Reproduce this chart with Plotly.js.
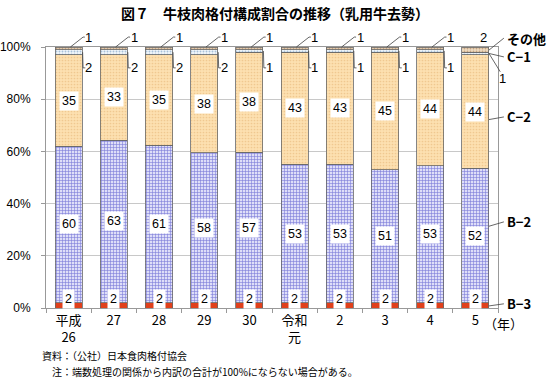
<!DOCTYPE html>
<html><head><meta charset="utf-8">
<script src="https://cdn.plot.ly/plotly-3.0.1.min.js"></script>
<style>html,body{margin:0;padding:0;background:#fff;}#chart{width:550px;height:382px;}</style>
</head><body><div id="chart"></div>
<script>
const years = ['平成<br>26','27','28','29','30','令和<br>元','2','3','4','5'];
const B3 = [2,2,2,2,2,2,2,2,2,2];
const B2 = [60,63,61,58,57,53,53,51,53,52];
const C2 = [35,33,35,38,38,43,43,45,44,44];
const C1 = [2,2,2,2,1,1,1,1,1,1];
const OTHER = [1,1,1,1,1,1,1,1,1,2];
const seriesNames = ['B−3','B−2','C−2','C−1','その他'];
const yTicks = [0,20,40,60,80,100];
const yTickText = ['0%','20%','40%','60%','80%','100%'];

const NUMF = 'Liberation Sans, Arial, Noto Sans CJK JP, sans-serif';
const JPF = 'Noto Sans CJK JP, sans-serif';
const lineC = '#404040';
const barLine = {color:'#666', width:0.8};

const series = [B3,B2,C2,C1,OTHER];
const styles = [
  {color:'#e0401c'},
  {color:'#d4d4f2', pattern:{shape:'+', fgcolor:'#7c7cd8', bgcolor:'#dedef8', size:3, solidity:0.35}},
  {color:'#fde0ae', pattern:{shape:'.', fgcolor:'#f0c890', bgcolor:'#fde0b0', size:3, solidity:0.25}},
  {color:'#eef4fa', pattern:{shape:'.', fgcolor:'#a8c0d8', bgcolor:'#f2f7fb', size:3, solidity:0.3}},
  {color:'#f0dcc0', pattern:{shape:'.', fgcolor:'#c4a482', bgcolor:'#efdcc2', size:3, solidity:0.3}}
];
const traces = series.map((s,k)=>({
  type:'bar', x:years, y:s, name:seriesNames[k],
  marker:Object.assign({line:barLine}, styles[k]),
  width:0.6, hoverinfo:'skip'
}));

// normalized cumulative values (bars normalised to 100% by barnorm)
const N = years.length;
const YMAX = 100;
const tot = years.map((_,i)=>series.reduce((a,s)=>a+s[i],0));
const norm = series.map(s=>s.map((v,i)=>v/tot[i]*100));
const cum = series.map((s,k)=>s.map((v,i)=>{let c=0;for(let j=0;j<k;j++)c+=norm[j][i];return c;}));
const xp = (idx)=>(idx+0.5)/N;   // category index -> paper x
const yp = (v)=>v/YMAX;          // y value -> paper y (range 0..100)

const ann = [];
const shapes = [];
const seg = (pts)=>{ // pts: [[idx,y],...]
  for(let j=0;j<pts.length-1;j++){
    shapes.push({type:'line',xref:'paper',yref:'paper',x0:xp(pts[j][0]),y0:yp(pts[j][1]),x1:xp(pts[j+1][0]),y1:yp(pts[j+1][1]),
      line:{color:lineC,width:0.8}});
  }
};
const txt = (idx,y,t,opt)=>Object.assign({xref:'paper',yref:'paper',x:xp(idx),y:yp(y),text:String(t),showarrow:false,
  xanchor:'center',yanchor:'middle',font:{family:NUMF,size:13,color:'#000'}},opt||{});
const boxLbl = (i,y,t,ys)=>txt(i,y,t,{bgcolor:'#fff',borderpad:2,yshift:ys||0,font:{family:NUMF,size:12.5,color:'#000'}});

years.forEach((_,i)=>{
  ann.push(boxLbl(i, norm[0][i]/2, B3[i], 6));
  ann.push(boxLbl(i, cum[1][i]+norm[1][i]/2, B2[i]));
  ann.push(boxLbl(i, cum[2][i]+norm[2][i]/2, C2[i]));
  const c1mid = cum[3][i]+norm[3][i]/2;
  if(i<N-1){
    seg([[i+0.04,100],[i+0.32,103.8],[i+0.36,103.8]]);
    ann.push(txt(i+0.45,103.6,OTHER[i]));
    seg([[i+0.31,c1mid],[i+0.32,92],[i+0.37,92]]);
    ann.push(txt(i+0.45,92,C1[i]));
  } else {
    ann.push(txt(i+0.17,103.6,OTHER[i]));
    seg([[i+0.3,c1mid],[i+0.55,90.5]]);
    ann.push(txt(i+0.6,88,C1[i]));
  }
});
// series name labels on the right of the last bar
const last = N-1;
const nameLbl = (k,frac,ty,t)=>{
  const tipY = cum[k][last]+norm[k][last]*frac;
  seg([[last+0.3,tipY],[last+0.63,ty]]);
  ann.push(txt(last+0.66,ty,t,{xanchor:'left',font:{family:JPF,size:13,color:'#000',weight:'bold'}}));
};
nameLbl(4,0.4,103.4,'その他');
nameLbl(3,0.5,96.2,'C−1');
nameLbl(2,0.43,73.2,'C−2');
nameLbl(1,0.57,33,'B−2');
nameLbl(0,0.4,1.6,'B−3');

const L=46, R=52, T=47, B=74, W=550, H=382;
const pw=W-L-R, ph=H-T-B;
const px=(x)=>(x-L)/pw, py=(y)=>(H-B-y)/ph;
ann.push({xref:'paper',yref:'paper',x:px(503),y:py(323),xanchor:'center',yanchor:'middle',text:'（年）',showarrow:false,
  font:{family:JPF,size:13,color:'#000'}});
ann.push({xref:'paper',yref:'paper',x:px(40),y:py(355),text:'資料：（公社）日本食肉格付協会',showarrow:false,
  xanchor:'left',yanchor:'middle',font:{family:JPF,size:10,color:'#000'}});
ann.push({xref:'paper',yref:'paper',x:px(50),y:py(371),text:'注：端数処理の関係から内訳の合計が100%にならない場合がある。',showarrow:false,
  xanchor:'left',yanchor:'middle',font:{family:JPF,size:10,color:'#000'}});
ann.push({xref:'paper',yref:'paper',x:px(275),y:py(13),xanchor:'center',yanchor:'middle',
  text:'図７　牛枝肉格付構成割合の推移（乳用牛去勢）',showarrow:false,
  font:{family:JPF,size:14,color:'#000',weight:'bold'}});

const layout = {
  width:W, height:H, margin:{l:L,r:R,t:T,b:B},
  paper_bgcolor:'#fff', plot_bgcolor:'#fff',
  barmode:'stack', barnorm:'percent', showlegend:false,
  xaxis:{type:'category', showline:true, linecolor:'#999', linewidth:1, mirror:true,
    ticks:'outside', tickson:'boundaries', ticklen:4, tickcolor:'#999',
    tickfont:{family:JPF,size:13,color:'#000'}, showgrid:false},
  yaxis:{range:[0,YMAX], tickvals:yTicks, ticktext:yTickText, showline:true, linecolor:'#999', mirror:true,
    ticks:'outside', ticklen:4, tickcolor:'#999', ticklabelstandoff:8, showgrid:true, gridcolor:'#c8c8c8', gridwidth:1,
    tickfont:{family:NUMF,size:12,color:'#000'}, zeroline:false},
  annotations:ann, shapes:shapes,
  font:{family:JPF}
};
Plotly.newPlot('chart', traces, layout, {staticPlot:true, displayModeBar:false});
</script></body></html>
